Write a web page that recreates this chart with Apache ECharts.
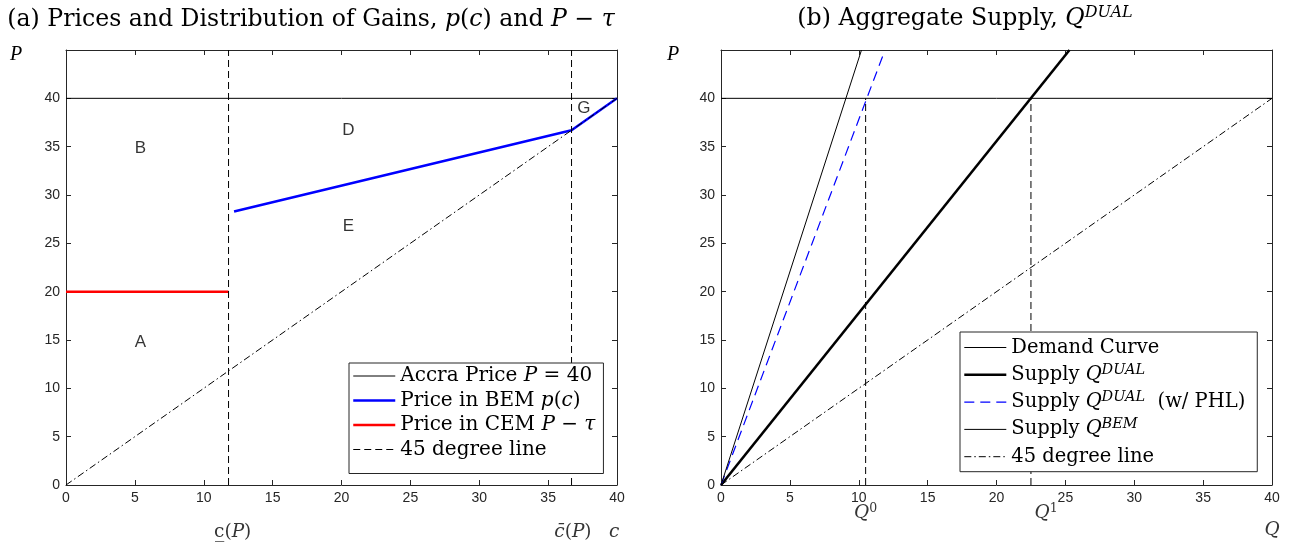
<!DOCTYPE html>
<html><head><meta charset="utf-8">
<script src="https://cdn.jsdelivr.net/npm/echarts@6/dist/echarts.min.js"></script>
<style>html,body{margin:0;padding:0;background:#fff}#c{width:1294px;height:548px}</style>
</head><body><div id="c"></div><script>
// ---------- data ----------
const xTickValues = [0, 5, 10, 15, 20, 25, 30, 35, 40];
const yTickValues = [0, 5, 10, 15, 20, 25, 30, 35, 40];
// panel (a)
const cLow = 11.8, cHigh = 36.7;
const accraPrice = [[0, 40], [40, 40]];
const bemPrice = [[12.2, 28.3], [36.7, 36.7], [40, 40]];
const cemPrice = [[0, 20], [11.8, 20]];
const diagA = [[0, 0], [40, 40]];
const regionNames = ['A', 'B', 'D', 'E', 'G'];
const regionX = [5.4, 5.4, 20.5, 20.5, 37.6];
const regionY = [14.8, 34.8, 36.7, 26.8, 39.0];
// panel (b)
const demand = [[0, 40], [40, 40]];
const supplyDual = [[0, 0], [25.3, 45]];
const supplyPHL = [[0, 0], [11.8, 44.6]];
const supplyBEM = [[0, 0], [10.2, 45]];
const diagB = [[0, 0], [40, 40]];
const q0 = 10.5, q1 = 22.5;

// ---------- styling helpers ----------
const AX = '#262626';
const SERIF = 'DejaVu Serif';
const SANS = 'Liberation Sans';
function mkX(grid, pos, labels) {
  return {type: 'value', gridIndex: grid, position: pos, min: 0, max: 40, interval: 5,
    axisLine: {show: true, onZero: false, lineStyle: {color: AX, width: 1}},
    axisTick: {show: true, inside: true, length: 5, lineStyle: {color: AX}},
    axisLabel: {show: labels, color: AX, fontFamily: SANS, fontSize: 14, margin: 6,
      formatter: v => (xTickValues.indexOf(v) >= 0 ? String(v) : '')},
    splitLine: {show: false}};
}
function mkY(grid, pos, labels) {
  return {type: 'value', gridIndex: grid, position: pos, min: 0, max: 45, interval: 5,
    axisLine: {show: true, onZero: false, lineStyle: {color: AX, width: 1}},
    axisTick: {show: true, inside: true, length: 5, lineStyle: {color: AX}},
    axisLabel: {show: labels, color: AX, fontFamily: SANS, fontSize: 14, margin: 6,
      formatter: v => (yTickValues.indexOf(v) >= 0 ? String(v) : '')},
    splitLine: {show: false}};
}
function line(name, data, xi, yi, color, width, type) {
  return {name, type: 'line', data, xAxisIndex: xi, yAxisIndex: yi, symbol: 'none', showSymbol: false,
    lineStyle: {color, width, type: type || 'solid'}, itemStyle: {color},
    silent: true, animation: false, z: 3};
}
const dashed = [7, 4];
const dashDot = [7, 3, 1.5, 3];

const legendText = {
  L1: '{t|Accra Price }{i|P}{t| = 40}',
  L2: '{t|Price in BEM }{i|p}{t|(}{i|c}{t|)}',
  L3: '{t|Price in CEM }{i|P}{t| − }{i|τ}',
  L4: '{t|45 degree line}',
  R1: '{t|Demand Curve}{s| }',
  R2: '{t|Supply }{i|Q}{s|DUAL}',
  R3: '{t|Supply }{i|Q}{s|DUAL}{t|  (w/ PHL)}',
  R4: '{t|Supply }{i|Q}{s|BEM}',
  R5: '{t|45 degree line}{s| }'
};
function richSet(fs) {
  return {
    t: {fontFamily: SERIF, fontSize: fs, color: '#000'},
    i: {fontFamily: SERIF, fontSize: fs, fontStyle: 'italic', color: '#000'},
    s: {fontFamily: SERIF, fontSize: 14.5, fontStyle: 'italic', color: '#000', padding: [0, 0, 10, 0]}
  };
}

const regionData = regionNames.map((n, k) => ({name: n, value: [regionX[k], regionY[k]]}));
const belowA = [
  {name: '{u|c\u0332}{t|(}{i|P}{t|)}', value: [cLow + 0.3, -4.85]},
  {name: '{i|c\u0304}{t|(}{i|P}{t|)}', value: [cHigh + 0.1, -4.85]},
  {name: '{i|c}', value: [39.8, -4.85]}
];
const belowB = [
  {name: '{i|Q}{s|0}', value: [q0, -2.9]},
  {name: '{i|Q}{s|1}', value: [q1 + 1.1, -2.9]},
  {name: '{i|Q}', value: [40, -4.7]}
];
const labRich = {
  t: {fontFamily: SERIF, fontSize: 18.5, color: '#000'},
  u: {fontFamily: SERIF, fontSize: 18.5, color: '#000'},
  i: {fontFamily: SERIF, fontSize: 18.5, fontStyle: 'italic', color: '#000'},
  s: {fontFamily: SERIF, fontSize: 12.5, color: '#000', padding: [0, 0, 9, 0]}
};
function textScatter(data, xi, yi, rich, fontFamily, fontSize) {
  return {type: 'scatter', data, xAxisIndex: xi, yAxisIndex: yi, symbolSize: 0, clip: false,
    silent: true, animation: false, z: 5,
    label: {show: true, position: 'inside', formatter: p => p.name, color: '#000',
      fontFamily, fontSize, rich}};
}

const titleRich = {
  t: {fontFamily: SERIF, fontSize: 23.6, fill: '#000'},
  i: {fontFamily: SERIF, fontSize: 23.6, fontStyle: 'italic', fill: '#000'},
  s: {fontFamily: SERIF, fontSize: 16, fontStyle: 'italic', fill: '#000', padding: [0, 0, 11, 0]}
};
function li(name, width) { return {name, lineStyle: {width}}; }

const option = {
  backgroundColor: '#fff',
  animation: false,
  grid: [
    {left: 66, right: 677, top: 50, bottom: 63, containLabel: false},
    {left: 721, right: 22, top: 50, bottom: 63, containLabel: false}
  ],
  xAxis: [mkX(0, 'bottom', true), mkX(0, 'top', false), mkX(1, 'bottom', true), mkX(1, 'top', false)],
  yAxis: [mkY(0, 'left', true), mkY(0, 'right', false), mkY(1, 'left', true), mkY(1, 'right', false)],
  legend: [
    {data: [li('L1', 1), li('L2', 2.5), li('L3', 2.5), li('L4', 1)],
      orient: 'vertical', left: 349, top: 363,
      backgroundColor: '#fff', borderColor: AX, borderWidth: 1, padding: [3, 8, 14, 3],
      itemWidth: 42, itemHeight: 14, itemGap: 4.5, selectedMode: false,
      itemStyle: {opacity: 0},
      formatter: n => legendText[n], textStyle: {rich: richSet(20)}},
    {data: [li('R1', 1), li('R2', 2.6), li('R3', 1.2), li('R4', 1), li('R5', 1)],
      orient: 'vertical', left: 960, top: 332,
      backgroundColor: '#fff', borderColor: AX, borderWidth: 1, padding: [3, 12, 5, 3],
      itemWidth: 42, itemHeight: 14, itemGap: 4.8, selectedMode: false,
      itemStyle: {opacity: 0},
      formatter: n => legendText[n], textStyle: {rich: richSet(19.5)}}
  ],
  graphic: [
    {type: 'text', x: 311, y: 8, silent: true,
      style: {text: '{t|(a) Prices and Distribution of Gains, }{i|p}{t|(}{i|c}{t|) and }{i|P}{t| − }{i|τ}', rich: titleRich, align: 'center'}},
    {type: 'text', x: 965, y: 5, silent: true,
      style: {text: '{t|(b) Aggregate Supply, }{i|Q}{s|DUAL}', rich: titleRich, align: 'center'}},
    {type: 'text', left: 10, top: 45, silent: true,
      style: {text: 'P', fontFamily: 'Liberation Serif', fontSize: 20, fontStyle: 'italic', fill: '#000'}},
    {type: 'text', left: 667, top: 45, silent: true,
      style: {text: 'P', fontFamily: 'Liberation Serif', fontSize: 20, fontStyle: 'italic', fill: '#000'}}
  ],
  series: [
    line('L1', accraPrice, 0, 0, '#000', 1),
    line('L2', bemPrice, 0, 0, '#0000ff', 2.5),
    line('L3', cemPrice, 0, 0, '#ff0000', 2.5),
    line('L4', [[cLow, 0], [cLow, 45]], 0, 0, '#000', 1, dashed),
    line('L4', [[cHigh, 0], [cHigh, 45]], 0, 0, '#000', 1, dashed),
    line('Ldiag', diagA, 0, 0, '#000', 1, dashDot),
    textScatter(regionData, 0, 0, undefined, SANS, 17),
    textScatter(belowA, 0, 0, labRich, SERIF, 18.5),

    line('R1', demand, 2, 2, '#000', 1),
    line('R2', supplyDual, 2, 2, '#000', 2.6),
    line('R3', supplyPHL, 2, 2, '#0000ff', 1.2, [10, 6]),
    line('R4', supplyBEM, 2, 2, '#000', 1),
    line('R5', diagB, 2, 2, '#000', 1, dashDot),
    line('Rq0', [[q0, 0], [q0, 40]], 2, 2, '#000', 1, dashed),
    line('Rq1', [[q1, 0], [q1, 40]], 2, 2, '#000', 1, dashed),
    textScatter(belowB, 2, 2, labRich, SERIF, 18.5)
  ]
};
const chart = echarts.init(document.getElementById('c'), null, {renderer: 'canvas'});
chart.setOption(option);
</script></body></html>
